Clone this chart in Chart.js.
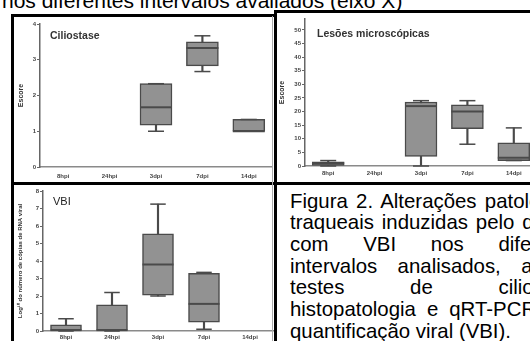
<!DOCTYPE html>
<html>
<head>
<meta charset="utf-8">
<script src="https://cdn.jsdelivr.net/npm/chart.js@4.4.1/dist/chart.umd.min.js"></script>
<style>
  html, body { margin: 0; padding: 0; width: 530px; height: 341px; overflow: hidden; background: #fff; }
  body { position: relative; font-family: "Liberation Sans", Arial, sans-serif; color: #000; }
  .box { position: absolute; }
  .rule { position: absolute; background: #000; }
  .ptitle { position: absolute; font-weight: bold; color: #333; font-size: 10.5px; line-height: 12px; white-space: nowrap; }
  #toptext { position: absolute; left: 2px; top: -11.5px; font-size: 21px; line-height: 24px; white-space: nowrap; }
  #caption { position: absolute; left: 290px; top: 190.5px; width: 298px; font-size: 20.4px; line-height: 21.7px; }
  #caption .j { text-align: justify; text-align-last: justify; }
</style>
</head>
<body>
<div id="toptext">nos diferentes intervalos avaliados (eixo X)</div>

<div class="box" style="left:14px; top:16px; width:261px; height:166px;"><canvas id="cilio"></canvas></div>
<div class="box" style="left:277px; top:12px; width:262px; height:170px;"><canvas id="lesao"></canvas></div>
<div class="box" style="left:14px; top:184px; width:261px; height:157px;"><canvas id="vbi"></canvas></div>

<div class="ptitle" style="left:50px; top:29px;">Ciliostase</div>
<div class="ptitle" style="left:317px; top:26.5px;">Lesões microscópicas</div>
<div class="ptitle" style="left:53px; top:195px; font-weight:normal; color:#222; font-size:11px;">VBI</div>

<div id="caption">
  <div class="j">Figura 2. Alterações patológicas</div>
  <div class="j">traqueais induzidas pelo desafio</div>
  <div class="j">com VBI nos diferentes</div>
  <div class="j">intervalos analisados, através</div>
  <div class="j">testes de ciliostase,</div>
  <div class="j">histopatologia e qRT-PCR para</div>
  <div>quantificação viral (VBI).</div>
</div>

<!-- molduras -->
<div class="rule" style="left:11px; top:14px; width:264px; height:3px;"></div>
<div class="rule" style="left:11px; top:14px; width:3px; height:330px;"></div>
<div class="rule" style="left:274px; top:10px; width:260px; height:2.5px;"></div>
<div class="rule" style="left:274px; top:10px; width:3px; height:335px;"></div>
<div class="rule" style="left:11px; top:182px; width:523px; height:3px;"></div>
<div class="rule" style="left:272px; top:16px; width:1px; height:330px; background:#aaa;"></div>

<script>
const categories = ['8hpi', '24hpi', '3dpi', '7dpi', '14dpi'];

// Ciliostase (escore)
const cilioMin    = [null, null, 1.0,  2.67, 1.0];
const cilioQ1     = [null, null, 1.17, 2.83, 1.0];
const cilioMedian = [null, null, 1.67, 3.33, 1.0];
const cilioQ3     = [null, null, 2.33, 3.5,  1.33];
const cilioMax    = [null, null, 2.33, 3.67, 1.33];

// Lesões microscópicas (escore)
const lesaoMin    = [0,   null, 0,    8,     2];
const lesaoQ1     = [0,   null, 3.5,  13.75, 2];
const lesaoMedian = [1,   null, 22,   20,    3];
const lesaoQ3     = [1.5, null, 23.5, 22.5,  8.5];
const lesaoMax    = [2,   null, 24,   24,    14];

// VBI (log10 cópias de RNA viral)
const vbiMin    = [0,    0,    2.0,  0.1,  null];
const vbiQ1     = [0,    0,    2.05, 0.5,  null];
const vbiMedian = [0.05, 0.05, 3.8,  1.55, null];
const vbiQ3     = [0.35, 1.5,  5.55, 3.3,  null];
const vbiMax    = [0.7,  2.2,  7.25, 3.35, null];

const BOX_FILL = '#929292';
const DARK = '#4a4a4a';

// mediana e traços das extremidades
const boxLines = {
    id: 'boxLines',
    afterDatasetsDraw(chart, args, o) {
        const ctx = chart.ctx;
        const x = chart.scales.x, y = chart.scales.y;
        ctx.save();
        ctx.strokeStyle = DARK;
        o.medians.forEach((m, i) => {
            if (m == null) return;
            const cx = x.getPixelForValue(i);
            const hw = o.boxWidth / 2;
            ctx.lineWidth = 2;
            ctx.beginPath();
            ctx.moveTo(cx - hw, y.getPixelForValue(m));
            ctx.lineTo(cx + hw, y.getPixelForValue(m));
            ctx.stroke();
            ctx.lineWidth = 1.5;
            [o.mins[i], o.maxs[i]].forEach(v => {
                const py = y.getPixelForValue(v);
                ctx.beginPath();
                ctx.moveTo(cx - hw / 2, py);
                ctx.lineTo(cx + hw / 2, py);
                ctx.stroke();
            });
        });
        ctx.restore();
    }
};

function boxChart(id, mins, q1s, medians, q3s, maxs, cfg) {
    const boxes = q1s.map((q, i) => q == null ? null : [q, q3s[i]]);
    const whiskers = mins.map((m, i) => m == null ? null : [m, maxs[i]]);
    return new Chart(document.getElementById(id), {
        type: 'bar',
        data: {
            labels: categories,
            datasets: [{
                data: boxes,
                backgroundColor: BOX_FILL,
                borderColor: DARK,
                borderWidth: 1.5,
                borderSkipped: false,
                barThickness: cfg.boxWidth,
                grouped: false
            }, {
                data: whiskers,
                backgroundColor: DARK,
                borderWidth: 0,
                barThickness: 1.5,
                grouped: false
            }]
        },
        options: {
            animation: false,
            responsive: true,
            maintainAspectRatio: false,
            layout: { padding: cfg.padding },
            plugins: {
                legend: { display: false },
                tooltip: { enabled: false },
                boxLines: { mins, medians, maxs, boxWidth: cfg.boxWidth }
            },
            scales: {
                x: {
                    afterFit: s => { s.height = cfg.xHeight; },
                    ticks: { font: { family: 'Arial', size: 6, weight: 'bold' }, color: '#444', padding: cfg.xPad, maxRotation: 0, autoSkip: false },
                    grid: { display: false, drawTicks: false },
                    border: { color: '#8a8a8a', width: 1.5 }
                },
                y: {
                    min: 0,
                    max: cfg.yMax,
                    afterFit: s => { s.width = cfg.yWidth; },
                    afterBuildTicks: s => { s.ticks = s.ticks.filter(t => t.value % cfg.yStep === 0); },
                    ticks: { stepSize: cfg.yStep, font: { family: 'Arial', size: 6, weight: 'bold' }, color: '#444', padding: 1 },
                    grid: { drawOnChartArea: false, drawTicks: true, tickLength: 3, tickColor: '#666', tickWidth: 1 },
                    border: { color: '#666', width: 1.5 },
                    title: { display: true, text: cfg.yTitle, color: '#333', font: { family: 'Arial', size: cfg.titleSize, weight: 'bold' }, padding: { top: cfg.titlePad, bottom: 1 } }
                }
            }
        },
        plugins: [boxLines]
    });
}

boxChart('cilio', cilioMin, cilioQ1, cilioMedian, cilioQ3, cilioMax, {
    boxWidth: 32, yMax: 4, yStep: 1, yTitle: 'Escore', titleSize: 7, titlePad: 3,
    yWidth: 26, xHeight: 15, xPad: 6, padding: { top: 8, right: 3, bottom: 0, left: 0 }
});

boxChart('lesao', lesaoMin, lesaoQ1, lesaoMedian, lesaoQ3, lesaoMax, {
    boxWidth: 32, yMax: 54, yStep: 5, yTitle: 'Escore', titleSize: 7, titlePad: 1,
    yWidth: 28, xHeight: 16, xPad: 4, padding: { top: 7, right: 2, bottom: 0, left: 0 }
});

boxChart('vbi', vbiMin, vbiQ1, vbiMedian, vbiQ3, vbiMax, {
    boxWidth: 31, yMax: 8, yStep: 1, yTitle: 'Log¹⁰ do número de cópias de RNA viral', titleSize: 6, titlePad: 3,
    yWidth: 29, xHeight: 10, xPad: 3, padding: { top: 7, right: 2, bottom: 0, left: 0 }
});
</script>
</body>
</html>
